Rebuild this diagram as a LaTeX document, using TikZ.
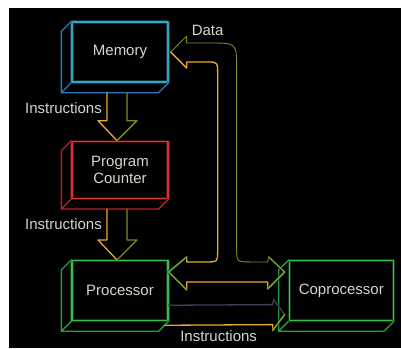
\documentclass[tikz,border=0pt]{standalone}
\usepackage{fontspec}
\setmainfont{Liberation Sans}
\usetikzlibrary{positioning, calc}
\usepackage{xcolor}

\definecolor{memcol}{HTML}{2FA8C4}
\definecolor{memback}{HTML}{2A78C0}
\definecolor{pccol}{HTML}{E2302A}
\definecolor{pcback}{HTML}{B82424}
\definecolor{cpucol}{HTML}{38C24A}
\definecolor{cpuback}{HTML}{2A9C3C}
\definecolor{warm}{HTML}{E8A832}
\definecolor{olive}{HTML}{7A8C22}
\definecolor{leaf}{HTML}{62AC34}
\definecolor{slate}{HTML}{3A4060}
\definecolor{ink}{HTML}{D2D8CA}

\begin{document}
\begin{tikzpicture}[x=1pt, y=-1pt, % y 軸向下
  glow/.style={line width=1.3pt, line join=round, line cap=round,
    preaction={draw, line width=3.4pt, opacity=0.3}},
  thinglow/.style={line width=0.9pt, line join=round, line cap=round,
    preaction={draw, line width=2.6pt, opacity=0.25}},
  box/.style={draw, glow, color=#1, text=ink, minimum width=96pt, minimum height=60pt,
    align=center, font=\fontsize{15}{17}\selectfont},
  lbl/.style={text=ink, font=\fontsize{15}{17}\selectfont, inner sep=1pt}]

\useasboundingbox (0,0) rectangle (401,348);
\fill[white] (0,0) rectangle (401,348);
\fill[black] (9,8) rectangle (401,348);

\node[box=memcol] (mem) at (120,52) {Memory};
\node[box=pccol, below=58pt of mem, minimum height=57pt] (pc) {Program\\Counter};
\node[box=cpucol, below=61pt of pc] (cpu) {Processor};
\node[box=cpucol, right=120pt of cpu, minimum width=104pt] (fpu) {Coprocessor};

% 方塊的厚度
\foreach \n/\col in {mem/memback, pc/pcback, cpu/cpuback, fpu/cpuback}
  \draw[glow, color=\col] (\n.north west) -- ++(-10,10) |- ($(\n.south east)+(-10,10)$) -- (\n.south east)
    (\n.south west) -- ++(-10,10);

% Instructions 箭頭
\foreach \a/\b/\i in {mem/pc/1, pc/cpu/2} {
  \coordinate (s\i) at ($(\a.south)+(-3,10)$);
  \coordinate (e\i) at ($(\b.north)+(-3,0)$);
  \draw[glow, warm] ($(s\i)+(-10,0)$) -- ($(e\i)+(-10,-20)$) -- ($(e\i)+(-19,-20)$) -- (e\i);
  \draw[glow, olive] ($(s\i)+(10,0)$) -- ($(e\i)+(10,-20)$) -- ($(e\i)+(20,-20)$) -- (e\i);
  \node[lbl, anchor=east] (ins\i) at ($(s\i)+(-14,15)$) {Instructions};
}

% Data 匯流排
\coordinate (dm) at ($(mem.east)+(2,0)$);
\coordinate (dc) at ($(cpu.north east)+(0,12)$);
\coordinate (df) at ($(fpu.north west)+(-4,12)$);
\coordinate (jn) at ($(dc)!0.5!(df)$);

\draw[thinglow, olive] (dm) -- ++(16,-16) -- ++(0,7) -- ($(jn|-dm)+(-16,-9)$)
  .. controls ($(jn|-dm)+(10,-9)$) .. ($(jn|-dm)+(10,17)$) -- ($(jn)+(10,-24)$)
  .. controls ($(jn)+(10,-10)$) .. ($(jn)+(24,-10)$) -- ($(df)+(-17,-10)$) -- ++(1,-5) -- (df);
\draw[glow, warm] (dm) -- ++(16,16) -- ++(0,-6) -- ($(jn|-dm)+(-20,10)$)
  .. controls ($(jn|-dm)+(-9,10)$) .. ($(jn|-dm)+(-9,21)$) -- ($(jn)+(-9,-21)$)
  .. controls ($(jn)+(-9,-10)$) .. ($(jn)+(-20,-10)$) -- ($(dc)+(18,-10)$) -- ++(0,-5) -- (dc);
\draw[glow, warm] (dc) -- ($(dc)+(18,18)$) -- ++(0,-8) -- ($(df)+(-17,10)$) -- ++(0,7) -- (df);
\draw[glow, leaf] ($(dc)+(18,-15)$) -- (dc) -- ($(dc)+(18,18)$);
\draw[glow, leaf] ($(df)+(-16,-15)$) -- (df) -- ($(df)+(-17,17)$);
\node[lbl] (data) at ($(jn|-dm)+(-19,-22)$) {Data};

% Processor 到 Coprocessor
\coordinate (fi) at ($(fpu.west)+(-4,24)$);
\draw[glow, slate] ($(cpu.south east)+(0,-16)$) -- ($(fi)+(-12,-10)$) -- ++(1,-5) -- (fi);
\draw[glow, warm] ($(cpu.south east)+(-4,4)$) -- ($(fi)+(-12,10)$) -- ++(0,6) -- (fi);
\draw[glow, leaf] ($(fi)+(-12,16)$) -- (fi);
\node[lbl] (ins3) at ($(cpu.south east)!0.5!(fpu.south west)+(-10,15)$) {Instructions};

\end{tikzpicture}
\end{document}
